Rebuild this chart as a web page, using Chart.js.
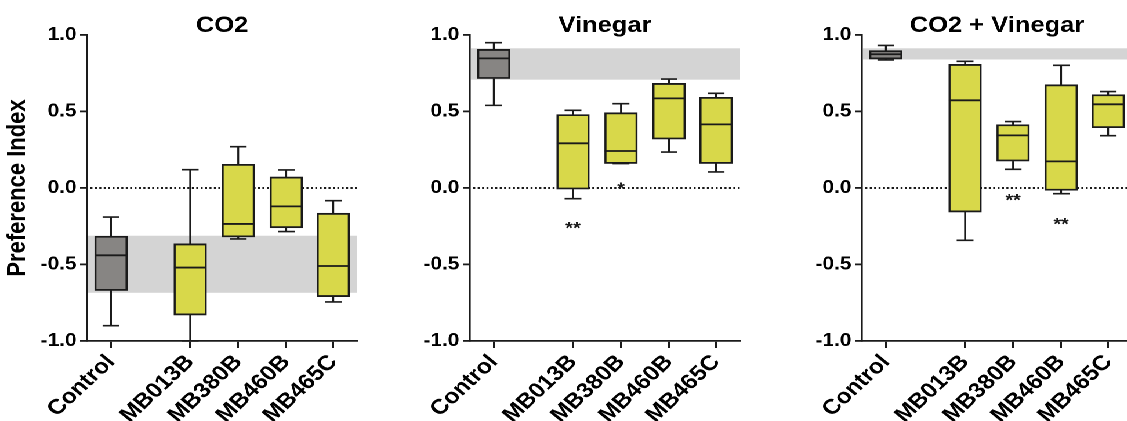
<!DOCTYPE html>
<html>
<head>
<meta charset="utf-8">
<script src="https://cdn.jsdelivr.net/npm/chart.js@4"></script>
<style>
    html, body { margin: 0; padding: 0; background: #fff; overflow: hidden; width: 1127px; height: 421px; }
    #wrap { position: absolute; left: 0; top: 0; width: 972px; height: 421px; transform: scaleX(1.16); transform-origin: 0 0; }
    canvas { position: absolute; top: 0; }
</style>
</head>
<body>
<div id="wrap">
    <canvas id="co2" width="320" height="421" style="left:0px"></canvas>
    <canvas id="vin" width="320" height="421" style="left:330px"></canvas>
    <canvas id="both" width="320" height="421" style="left:668px"></canvas>
</div>
<script>
const categories = ['Control', 'MB013B', 'MB380B', 'MB460B', 'MB465C'];
const catPos = [0.5, 2.15, 3.15, 4.15, 5.13];

// CO2
const co2Min = [-0.90, -1.00, -0.333, -0.285, -0.745];
const co2Q1 = [-0.67, -0.83, -0.32, -0.26, -0.71];
const co2Med = [-0.44, -0.52, -0.235, -0.12, -0.51];
const co2Q3 = [-0.315, -0.365, 0.155, 0.072, -0.165];
const co2Max = [-0.19, 0.12, 0.27, 0.118, -0.083];
const co2Band = [-0.685, -0.312];

// Vinegar
const vinMin = [0.54, -0.07, 0.16, 0.235, 0.105];
const vinQ1 = [0.715, -0.007, 0.16, 0.32, 0.16];
const vinMed = [0.847, 0.292, 0.242, 0.586, 0.416];
const vinQ3 = [0.906, 0.48, 0.492, 0.684, 0.593];
const vinMax = [0.95, 0.508, 0.551, 0.712, 0.619];
const vinBand = [0.708, 0.913];
const vinStarCat = [1, 2];
const vinStarText = ['**', '*'];
const vinStarY = [-0.232, 0.026];

// CO2 + Vinegar
const bothMin = [0.837, -0.342, 0.122, -0.037, 0.342];
const bothQ1 = [0.843, -0.157, 0.176, -0.015, 0.394];
const bothMed = [0.874, 0.573, 0.344, 0.174, 0.547];
const bothQ3 = [0.898, 0.808, 0.414, 0.675, 0.61];
const bothMax = [0.932, 0.828, 0.434, 0.802, 0.63];
const bothBand = [0.84, 0.913];
const bothStarCat = [2, 3];
const bothStarText = ['**', '**'];
const bothStarY = [-0.05, -0.205];

const FONT = "'Liberation Sans', Arial, sans-serif";
const INK = '#1a1a1a';
const GREY = '#878583';
const YELLOW = '#d8d84a';
const BOX_W = 28;
const CAP_W = 14.5;

function makeBoxPlugin(p) {
    return {
        id: 'boxExtras',
        beforeDatasetsDraw(chart) {
            const {ctx, chartArea, scales: {y}} = chart;
            ctx.save();
            // control range band
            const top = y.getPixelForValue(p.band[1]);
            const bot = y.getPixelForValue(p.band[0]);
            ctx.fillStyle = '#d4d4d4';
            ctx.fillRect(chartArea.left + 1, top, chartArea.right - chartArea.left - 1, bot - top);
            // dotted zero line
            const y0 = y.getPixelForValue(0);
            ctx.strokeStyle = INK;
            ctx.lineWidth = 2;
            ctx.setLineDash([1.7, 2.1]);
            ctx.beginPath();
            ctx.moveTo(chartArea.left + 3, y0);
            ctx.lineTo(chartArea.right, y0);
            ctx.stroke();
            ctx.restore();
        },
        afterDatasetsDraw(chart) {
            const {ctx, scales: {x, y}} = chart;
            ctx.save();
            ctx.strokeStyle = INK;
            ctx.lineWidth = 1.6;
            catPos.forEach((pos, i) => {
                const px = x.getPixelForValue(pos);
                const yMin = y.getPixelForValue(p.min[i]);
                const yQ1 = y.getPixelForValue(p.q1[i]);
                const yMed = y.getPixelForValue(p.med[i]);
                const yQ3 = y.getPixelForValue(p.q3[i]);
                const yMax = y.getPixelForValue(p.max[i]);
                ctx.beginPath();
                ctx.moveTo(px, yMax); ctx.lineTo(px, yQ3);
                ctx.moveTo(px, yQ1); ctx.lineTo(px, yMin);
                ctx.moveTo(px - CAP_W / 2, yMax); ctx.lineTo(px + CAP_W / 2, yMax);
                ctx.moveTo(px - CAP_W / 2, yMin); ctx.lineTo(px + CAP_W / 2, yMin);
                ctx.stroke();
                ctx.beginPath();
                ctx.lineWidth = 1.8;
                ctx.moveTo(px - BOX_W / 2, yMed); ctx.lineTo(px + BOX_W / 2, yMed);
                ctx.stroke();
                ctx.lineWidth = 1.6;
            });
            // significance marks
            if (p.starCat) {
                ctx.fillStyle = INK;
                ctx.font = 'bold 17px ' + FONT;
                ctx.textAlign = 'center';
                ctx.textBaseline = 'alphabetic';
                p.starCat.forEach((c, j) => {
                    const px = x.getPixelForValue(catPos[c]);
                    const py = y.getPixelForValue(p.starY[j]) + 10;
                    ctx.fillText(p.starText[j], px, py);
                });
            }
            ctx.restore();
        }
    };
}

function makeChart(id, title, p, showYTitle) {
    const ctx = document.getElementById(id).getContext('2d');
    return new Chart(ctx, {
        type: 'bar',
        data: {
            datasets: [{
                data: catPos.map((pos, i) => ({ x: pos, y: [p.q1[i], p.q3[i]] })),
                backgroundColor: catPos.map((pos, i) => i === 0 ? GREY : YELLOW),
                borderColor: INK,
                borderWidth: 1.8,
                borderSkipped: false,
                barThickness: BOX_W
            }]
        },
        options: {
            responsive: false,
            devicePixelRatio: 2,
            animation: false,
            layout: { padding: { left: 0, right: 12, top: 0, bottom: 0 } },
            plugins: {
                legend: { display: false },
                tooltip: { enabled: false },
                title: {
                    display: true,
                    text: title,
                    fullSize: false,
                    color: '#000',
                    font: { family: FONT, size: 22, weight: 'bold', lineHeight: 1 },
                    padding: { top: 15, bottom: -2 }
                }
            },
            scales: {
                x: {
                    type: 'linear',
                    min: 0,
                    max: 5.63,
                    offset: false,
                    afterBuildTicks: s => { s.ticks = catPos.map(v => ({ value: v })); },
                    afterFit: s => { s.height = 80; },
                    grid: { drawOnChartArea: false, offset: false, tickLength: 7, color: INK, lineWidth: 1.5 },
                    border: { color: INK, width: 1.8 },
                    ticks: {
                        autoSkip: false,
                        minRotation: 47,
                        maxRotation: 47,
                        padding: 2,
                        color: '#000',
                        font: { family: FONT, size: 21, weight: 'bold' },
                        callback: (v, i) => categories[i]
                    }
                },
                y: {
                    min: -1,
                    max: 1,
                    afterFit: s => { s.width = 75; },
                    grid: { drawOnChartArea: false, tickLength: 6, color: INK, lineWidth: 1.8 },
                    border: { color: INK, width: 1.8 },
                    ticks: {
                        stepSize: 0.5,
                        padding: 3,
                        color: '#000',
                        font: { family: FONT, size: 18, weight: 'bold' },
                        callback: v => v.toFixed(1)
                    },
                    title: {
                        display: showYTitle,
                        text: 'Preference Index',
                        color: '#000',
                        font: { family: FONT, size: 22, weight: 'bold' },
                        padding: { top: 2, bottom: 0 }
                    }
                }
            }
        },
        plugins: [makeBoxPlugin(p)]
    });
}

makeChart('co2', 'CO2', { min: co2Min, q1: co2Q1, med: co2Med, q3: co2Q3, max: co2Max, band: co2Band }, true);
makeChart('vin', 'Vinegar', {
    min: vinMin, q1: vinQ1, med: vinMed, q3: vinQ3, max: vinMax, band: vinBand,
    starCat: vinStarCat, starText: vinStarText, starY: vinStarY
}, false);
makeChart('both', 'CO2 + Vinegar', {
    min: bothMin, q1: bothQ1, med: bothMed, q3: bothQ3, max: bothMax, band: bothBand,
    starCat: bothStarCat, starText: bothStarText, starY: bothStarY
}, false);
</script>
</body>
</html>
